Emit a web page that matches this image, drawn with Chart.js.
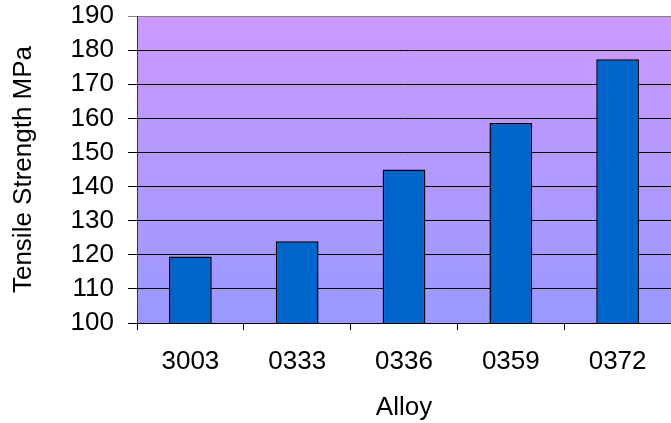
<!DOCTYPE html>
<html lang="en">
<head>
  <meta charset="UTF-8">
  <title>Tensile Strength by Alloy</title>
  <script src="https://cdn.jsdelivr.net/npm/chart.js"></script>
  <style>
    html, body { margin: 0; padding: 0; background: #fff; }
    #wrap { width: 671px; height: 423px; }
  </style>
</head>
<body>
  <div id="wrap"><canvas id="myChart"></canvas></div>
<script>
  // dados do gráfico
  const alloys = ['3003', '0333', '0336', '0359', '0372'];
  const strength = [119.5, 124, 145, 158.6, 177.3];
  const yTicks = [100, 110, 120, 130, 140, 150, 160, 170, 180, 190];

  // fundo em degradê da área do gráfico
  const fundo = {
    id: 'fundo',
    beforeDraw(chart) {
      const a = chart.chartArea;
      const ctx = chart.ctx;
      const g = ctx.createLinearGradient(0, a.top, 0, a.bottom);
      g.addColorStop(0, '#cc99ff');
      g.addColorStop(1, '#9999ff');
      ctx.save();
      ctx.fillStyle = g;
      ctx.fillRect(a.left, a.top, a.right - a.left, a.bottom - a.top);
      ctx.restore();
    }
  };

  const fonte = { family: 'Liberation Sans, Arial, sans-serif', size: 26 };

  const config = {
    type: 'bar',
    data: {
      labels: alloys,
      datasets: [{
        label: 'Tensile Strength MPa',
        data: strength,
        backgroundColor: '#0066cc',
        borderColor: '#000000',
        borderWidth: 1.5,
        borderSkipped: false,
        categoryPercentage: 0.8,
        barPercentage: 0.5
      }]
    },
    options: {
      responsive: true,
      maintainAspectRatio: false,
      animation: false,
      layout: { padding: { top: 16, right: 0, left: 0, bottom: 0 } },
      plugins: {
        legend: { display: false },
        tooltip: { enabled: false }
      },
      scales: {
        x: {
          offset: true,
          grid: {
            offset: true,
            drawOnChartArea: false,
            drawTicks: true,
            tickLength: 7,
            color: '#000000'
          },
          border: { display: true, color: '#000000', width: 1 },
          ticks: { color: '#000000', font: fonte, padding: 16, maxRotation: 0, autoSkip: false },
          title: {
            display: true,
            text: 'Alloy',
            color: '#000000',
            font: fonte,
            padding: { top: 4, bottom: 0 }
          },
          afterFit(scale) {
            scale.height = 100;
            scale.paddingLeft = 0;
            scale.paddingRight = 0;
          }
        },
        y: {
          min: 100,
          max: 190,
          afterBuildTicks(scale) { scale.ticks = yTicks.map(v => ({ value: v })); },
          grid: {
            tickLength: 9,
            color: ctx => (ctx.tick && ctx.tick.value === 190) ? '#808080' : '#000000',
            lineWidth: 1
          },
          border: { display: true, color: '#333333', width: 1 },
          ticks: { color: '#000000', font: fonte, padding: 14, autoSkip: false },
          title: {
            display: true,
            text: 'Tensile Strength MPa',
            color: '#000000',
            font: fonte,
            padding: { top: 8, bottom: 4 }
          },
          afterFit(scale) {
            scale.width = 137;
            scale.paddingTop = 0;
            scale.paddingBottom = 0;
          }
        }
      }
    },
    plugins: [fundo]
  };

  new Chart(document.getElementById('myChart'), config);
</script>
</body>
</html>
